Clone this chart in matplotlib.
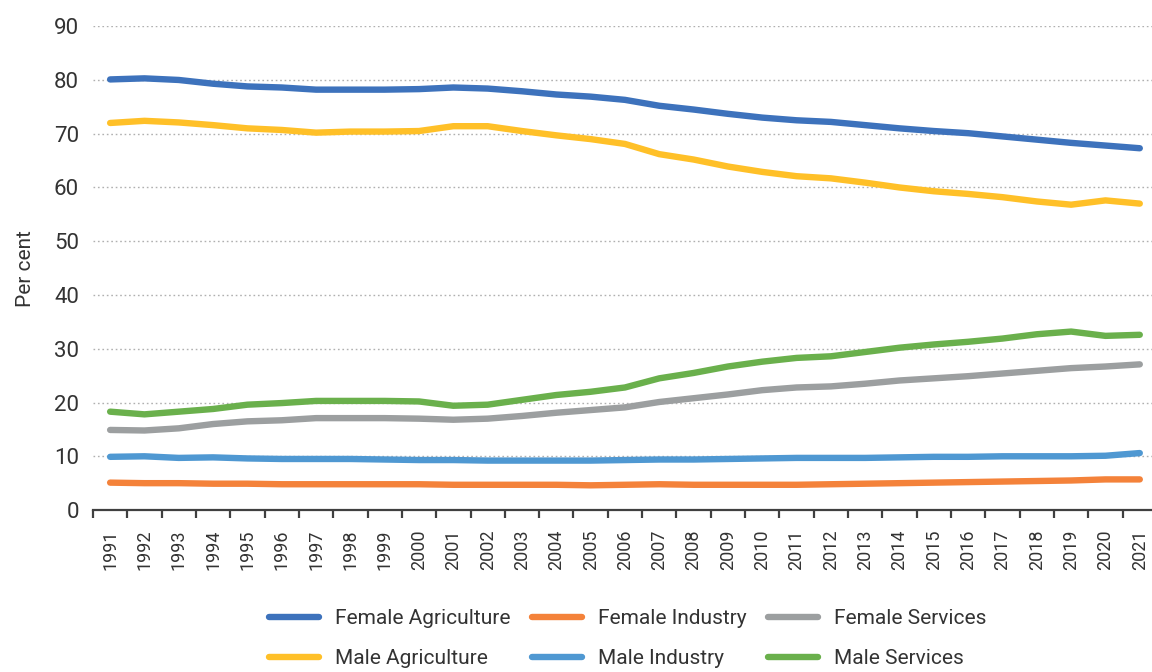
import matplotlib
matplotlib.use("Agg")
import matplotlib.pyplot as plt
import numpy as np

plt.rcParams['font.family'] = ['Roboto', 'DejaVu Sans']

years = list(range(1991, 2022))

female_agri = [80.1, 80.3, 80.0, 79.3, 78.8, 78.6, 78.2, 78.2, 78.2, 78.3, 78.6, 78.4, 77.9, 77.3, 76.9, 76.3,
               75.2, 74.5, 73.7, 73.0, 72.5, 72.2, 71.6, 71.0, 70.5, 70.1, 69.5, 68.9, 68.3, 67.8, 67.3]
female_ind = [5.1, 5.0, 5.0, 4.9, 4.9, 4.8, 4.8, 4.8, 4.8, 4.8, 4.7, 4.7, 4.7, 4.7, 4.6, 4.7,
              4.8, 4.7, 4.7, 4.7, 4.7, 4.8, 4.9, 5.0, 5.1, 5.2, 5.3, 5.4, 5.5, 5.7, 5.7]
female_serv = [14.9, 14.8, 15.2, 16.0, 16.5, 16.7, 17.1, 17.1, 17.1, 17.0, 16.8, 17.0, 17.5, 18.1, 18.6, 19.1,
               20.1, 20.8, 21.5, 22.3, 22.8, 23.0, 23.5, 24.1, 24.5, 24.9, 25.4, 25.9, 26.4, 26.7, 27.1]
male_agri = [72.0, 72.4, 72.1, 71.6, 71.0, 70.7, 70.2, 70.4, 70.4, 70.5, 71.4, 71.4, 70.5, 69.7, 69.0, 68.1,
             66.2, 65.2, 63.9, 62.9, 62.1, 61.7, 60.9, 60.0, 59.3, 58.8, 58.2, 57.4, 56.8, 57.6, 57.0]
male_ind = [9.9, 10.0, 9.7, 9.8, 9.6, 9.5, 9.5, 9.5, 9.4, 9.3, 9.3, 9.2, 9.2, 9.2, 9.2, 9.3,
            9.4, 9.4, 9.5, 9.6, 9.7, 9.7, 9.7, 9.8, 9.9, 9.9, 10.0, 10.0, 10.0, 10.1, 10.6]
male_serv = [18.3, 17.8, 18.3, 18.8, 19.6, 19.9, 20.3, 20.3, 20.3, 20.2, 19.4, 19.6, 20.5, 21.4, 22.0, 22.8,
             24.5, 25.5, 26.7, 27.6, 28.3, 28.6, 29.4, 30.2, 30.8, 31.3, 31.9, 32.7, 33.2, 32.4, 32.6]

series = [
    ("Female Agriculture", female_agri, "#3d72bc"),
    ("Female Industry", female_ind, "#f4823a"),
    ("Female Services", female_serv, "#9c9fa0"),
    ("Male Agriculture", male_agri, "#ffc028"),
    ("Male Industry", male_ind, "#4f98d2"),
    ("Male Services", male_serv, "#6ab04c"),
]

txt = "#333333"
fig = plt.figure(figsize=(11.52, 6.72), dpi=100)
ax = fig.add_axes([0.0807, 0.241, 0.9236, 0.720])

x = np.arange(len(years))
lines = []
for name, vals, col in series:
    ln, = ax.plot(x, vals, color=col, lw=4.6, solid_capstyle='round', solid_joinstyle='round', label=name, zorder=3)
    lines.append(ln)

ax.set_xlim(-0.5, len(years) - 0.5)
ax.set_ylim(0, 90)
ax.set_yticks(range(0, 91, 10))
ax.yaxis.grid(True, color="#b0b0b0", lw=1.0, linestyle=(0, (1.2, 2.0)))
ax.set_axisbelow(True)

ax.set_xticks(x)
ax.set_xticklabels([str(y) for y in years], rotation=90, fontsize=13, color=txt)
ax.set_xticks(np.arange(-0.5, len(years)), minor=True)
ax.tick_params(axis='x', which='major', length=0, pad=14)
ax.tick_params(axis='x', which='minor', length=6, width=1.6, color="#404040", direction='out')
ax.tick_params(axis='y', length=0, pad=10, labelsize=16, labelcolor=txt)

for s in ['top', 'right', 'left']:
    ax.spines[s].set_visible(False)
ax.spines['bottom'].set_color("#404040")
ax.spines['bottom'].set_linewidth(1.6)

ax.set_ylabel("Per cent", fontsize=15, color=txt, labelpad=14)

# legend is filled column by column, so interleave to read row-wise
order = [0, 3, 1, 4, 2, 5]
fig.legend([lines[i] for i in order], [series[i][0] for i in order],
           loc='upper left', bbox_to_anchor=(0.226, 0.1057), ncol=3, frameon=False,
           fontsize=15, handlelength=2.4, handletextpad=0.8, columnspacing=1.0,
           labelspacing=1.0, borderaxespad=0, labelcolor=txt)

fig.savefig("out.png", dpi=100)
